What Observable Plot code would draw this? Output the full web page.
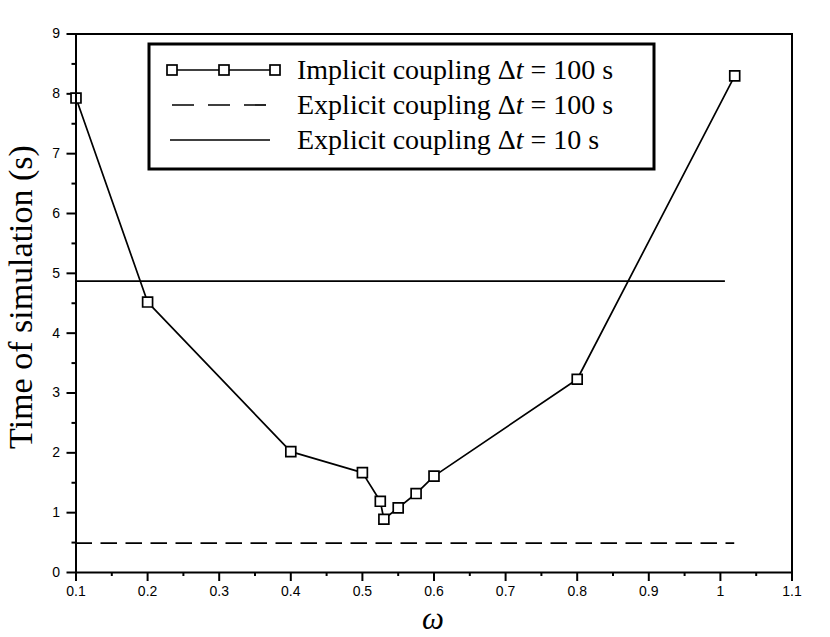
<!DOCTYPE html>
<html>
<head>
<meta charset="utf-8">
<script src="https://cdn.jsdelivr.net/npm/d3@7"></script>
<script src="https://cdn.jsdelivr.net/npm/@observablehq/plot@0.6"></script>
<style>
  html, body { margin: 0; padding: 0; background: #fff; }
  #chart { width: 830px; height: 637px; }
</style>
</head>
<body>
<div id="chart"></div>
<script>
// ---- data ----
const omega = [0.1, 0.2, 0.4, 0.5, 0.525, 0.53, 0.55, 0.575, 0.6, 0.8, 1.02];
const implicitTime = [7.93, 4.52, 2.02, 1.67, 1.19, 0.89, 1.08, 1.32, 1.61, 3.23, 8.30];
const explicit100 = 0.49;   // Explicit coupling Δt = 100 s
const explicit10 = 4.87;    // Explicit coupling Δt = 10 s
const explicit100Range = [0.1, 1.02];
const explicit10Range = [0.1, 1.007];
const xTicks = [0.1, 0.2, 0.3, 0.4, 0.5, 0.6, 0.7, 0.8, 0.9, 1.0, 1.1];
const xMinor = [0.15, 0.25, 0.35, 0.45, 0.55, 0.65, 0.75, 0.85, 0.95, 1.05];
const yTicks = [0, 1, 2, 3, 4, 5, 6, 7, 8, 9];
const yMinor = [0.5, 1.5, 2.5, 3.5, 4.5, 5.5, 6.5, 7.5, 8.5];
const legendLabels = ["Implicit coupling ", "Explicit coupling ", "Explicit coupling "];
const legendDt = ["100 s", "100 s", "10 s"];

const implicitData = omega.map((w, i) => ({w, t: implicitTime[i]}));

const plot = Plot.plot({
  width: 830,
  height: 637,
  marginLeft: 75.5,
  marginRight: 38.5,
  marginTop: 33.5,
  marginBottom: 65,
  x: {domain: [0.1, 1.1]},
  y: {domain: [0, 9]},
  style: {fontFamily: "'Liberation Sans', Arial, sans-serif", fontSize: "14px", color: "black", background: "white"},
  marks: [
    Plot.axisX({ticks: xTicks, tickSize: 9, tickPadding: 5, strokeWidth: 2, tickFormat: d => String(+d.toFixed(1)), label: null, fontSize: 14}),
    Plot.axisX({ticks: xMinor, tickSize: 4, strokeWidth: 2, tickFormat: () => "", label: null}),
    Plot.axisY({ticks: yTicks, tickSize: 9, tickPadding: 7, strokeWidth: 2, tickFormat: d => String(d), label: null, fontSize: 14}),
    Plot.axisY({ticks: yMinor, tickSize: 4, strokeWidth: 2, tickFormat: () => "", label: null}),
    Plot.ruleY([explicit100], {x1: explicit100Range[0], x2: explicit100Range[1], stroke: "black", strokeWidth: 1.7, strokeDasharray: "16.5,8.5"}),
    Plot.ruleY([explicit10], {x1: explicit10Range[0], x2: explicit10Range[1], stroke: "black", strokeWidth: 1.7}),
    Plot.line(implicitData, {x: "w", y: "t", stroke: "black", strokeWidth: 1.7}),
    Plot.dot(implicitData, {x: "w", y: "t", symbol: "square", r: 5.6, fill: "white", stroke: "black", strokeWidth: 1.7}),
    Plot.frame({stroke: "black", strokeWidth: 2})
  ]
});

document.getElementById("chart").appendChild(plot);

// ---- titles and legend ----
const svg = d3.select(plot);
const serif = "'Liberation Serif', 'DejaVu Serif', serif";

svg.append("text")
  .attr("transform", "translate(32,297) rotate(-90)")
  .attr("text-anchor", "middle")
  .attr("font-family", serif)
  .attr("font-size", 34)
  .attr("fill", "black")
  .text("Time of simulation (s)");

svg.append("text")
  .attr("x", 433)
  .attr("y", 629)
  .attr("text-anchor", "middle")
  .attr("font-family", serif)
  .attr("font-style", "italic")
  .attr("font-size", 31)
  .attr("fill", "black")
  .text("ω");

const lg = svg.append("g");
lg.append("rect")
  .attr("x", 149).attr("y", 44).attr("width", 505).attr("height", 125)
  .attr("fill", "white").attr("stroke", "black").attr("stroke-width", 3);

const rowsY = [70, 105, 140];
// row 1: line with squares
lg.append("line").attr("x1", 172).attr("x2", 275).attr("y1", rowsY[0]).attr("y2", rowsY[0])
  .attr("stroke", "black").attr("stroke-width", 1.7);
[172, 224, 275].forEach(x => {
  lg.append("rect").attr("x", x - 5).attr("y", rowsY[0] - 5).attr("width", 10).attr("height", 10)
    .attr("fill", "white").attr("stroke", "black").attr("stroke-width", 1.7);
});
// row 2: dashed
lg.append("line").attr("x1", 172).attr("x2", 270).attr("y1", rowsY[1]).attr("y2", rowsY[1])
  .attr("stroke", "black").attr("stroke-width", 1.7).attr("stroke-dasharray", "22,14");
// row 3: solid
lg.append("line").attr("x1", 170).attr("x2", 270).attr("y1", rowsY[2]).attr("y2", rowsY[2])
  .attr("stroke", "black").attr("stroke-width", 1.7);

legendLabels.forEach((lab, i) => {
  const t = lg.append("text")
    .attr("x", 297).attr("y", rowsY[i] + 9)
    .attr("text-anchor", "start")
    .attr("font-family", serif).attr("font-size", 28).attr("fill", "black");
  t.append("tspan").text(lab + "Δ");
  t.append("tspan").attr("font-style", "italic").text("t");
  t.append("tspan").text(" = " + legendDt[i]);
});
</script>
</body>
</html>
